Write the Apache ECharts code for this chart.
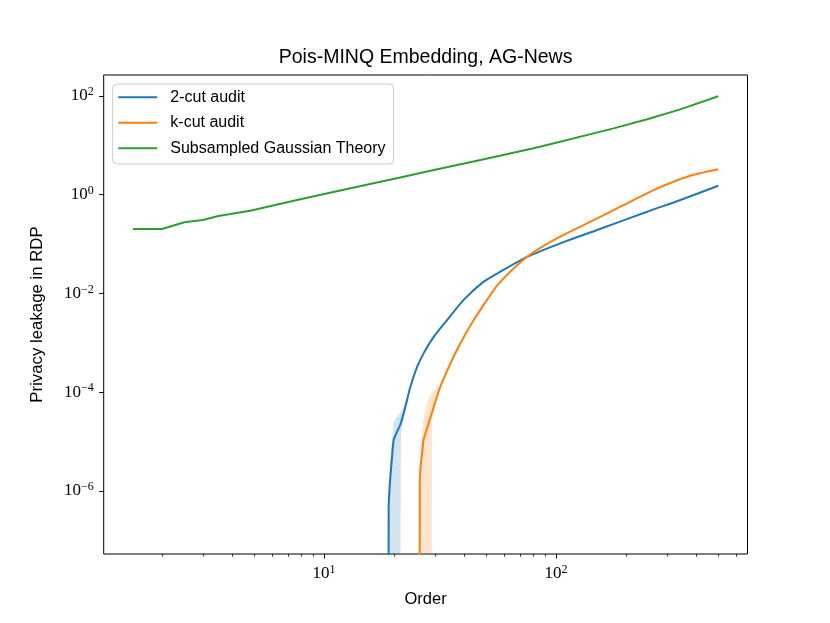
<!DOCTYPE html>
<html><head><meta charset="utf-8">
<script src="https://cdn.jsdelivr.net/npm/echarts@6/dist/echarts.min.js"></script>
<style>html,body{margin:0;padding:0;background:#fff}#c{width:830px;height:623px}</style>
</head><body><div id="c"></div>
<script>
// x = RDP order; y = log10(privacy leakage); null = zero leakage (falls below the axis, like matplotlib's clipping)
const greenOrders = [1.5, 2, 2.5, 3, 3.5, 4.8, 7.9, 13, 17.5, 21.3, 28.7, 47.2, 78.2, 91.4, 177, 247, 343, 500];
const greenLog10 = [-0.695, -0.695, -0.559, -0.513, -0.432, -0.324, -0.093, 0.130, 0.263, 0.351, 0.484, 0.703, 0.932, 1.007, 1.345, 1.528, 1.730, 1.995];

const blueOrders = [18.95, 18.98, 19.31, 19.64, 19.95, 20.64, 21.33, 22.4, 23.55, 25.17, 26.88, 29.68, 33.9, 39.96, 48.75, 57.5, 75.0, 104.3, 150.2, 246.7, 343.4, 500];
const blueLog10 = [null, -6.32, -5.71, -5.31, -4.97, -4.80, -4.65, -4.30, -3.89, -3.49, -3.21, -2.88, -2.54, -2.13, -1.76, -1.56, -1.26, -0.985, -0.715, -0.344, -0.107, 0.182];

const orangeOrders = [25.8, 25.83, 26.1, 26.45, 26.88, 27.8, 29.68, 31.72, 35.03, 38.68, 44.14, 50.42, 56.56, 75.0, 97.7, 136, 189.3, 263.5, 367, 500];
const orangeLog10 = [null, -5.82, -5.48, -5.24, -4.95, -4.73, -4.30, -3.89, -3.42, -3.01, -2.54, -2.13, -1.80, -1.256, -0.918, -0.58, -0.243, 0.095, 0.365, 0.515];

const blueBandOrders = [18.95, 18.98, 19.31, 19.64, 19.95, 20.64, 21.33, 21.45, 22.4, 23.55];
const blueBandUpper = [null, -6.0, -5.3, -4.95, -4.6, -4.5, -4.42, -4.40, -4.2, -3.86];
const blueBandLower = [null, null, null, null, null, null, null, -4.85, -4.38, -3.92];

const orangeBandOrders = [25.8, 25.83, 26.1, 26.45, 26.88, 27.8, 29.1, 29.2, 29.68, 31.72];
const orangeBandUpper = [null, -5.5, -5.1, -4.77, -4.5, -4.2, -4.0, -3.99, -3.97, -3.85];
const orangeBandLower = [null, null, null, null, null, null, null, -4.6, -4.4, -3.93];

const yTickExps = [-6, -4, -2, 0, 2];
const xTickExps = [1, 2];
const xMinorTickOrders = [2, 3, 4, 5, 6, 7, 8, 9, 20, 30, 40, 50, 60, 70, 80, 90, 200, 300, 400, 500, 600];
const seriesNames = ['2-cut audit', 'k-cut audit', 'Subsampled Gaussian Theory'];

const xExtentLog = [0.05, 2.825];
const yExtentLog = [-7.28, 2.426];
const FLOOR = -12;

const L = Math.log10;
const val = v => (v == null ? FLOOR : v);
const pts = (xs, ys) => xs.map((x, i) => [L(x), val(ys[i])]);

const SANS = 'Liberation Sans';
const SERIF = 'Liberation Serif';
const expFmt = v => {
  const e = Math.round(v);
  return '{b|10}{s|' + (e < 0 ? '\u2212' + Math.abs(e) : e) + '}';
};
const rich = {
  b: { fontFamily: SERIF, fontSize: 17, lineHeight: 20, color: '#000' },
  s: { fontFamily: SERIF, fontSize: 12, lineHeight: 12, verticalAlign: 'top', color: '#000' }
};

const C = { blue: '#1f77b4', orange: '#ff7f0e', green: '#2ca02c' };

// Filled confidence band drawn as one polygon, positioned through the axes (api.coord)
function bandSeries(xs, up, lo, fill) {
  const rows = xs.map((x, i) => [L(x), val(lo[i]), val(up[i])]);
  return {
    type: 'custom', data: rows, encode: { x: 0, y: [1, 2] }, silent: true, z: 1, animation: false,
    renderItem: (params, api) => {
      if (params.dataIndex !== 0) return null;
      const cs = params.coordSys;
      const clampY = p => [p[0], Math.max(cs.y, Math.min(cs.y + cs.height, p[1]))];
      const top = rows.map(r => clampY(api.coord([r[0], r[2]])));
      const bot = rows.map(r => clampY(api.coord([r[0], r[1]]))).reverse();
      return { type: 'polygon', shape: { points: top.concat(bot), smooth: 0 }, style: { fill: fill, stroke: null } };
    }
  };
}

const chart = echarts.init(document.getElementById('c'), null, { renderer: 'canvas' });
chart.setOption({
  animation: false,
  backgroundColor: '#fff',
  title: {
    text: 'Pois-MINQ Embedding, AG-News', left: 425.6, textAlign: 'center', top: 48, padding: 0,
    textStyle: { fontFamily: SANS, fontSize: 19.5, fontWeight: 'normal', color: '#000' }
  },
  legend: {
    data: seriesNames, orient: 'vertical', left: 112.7, top: 84,
    padding: [3.3, 8, 5.7, 5.6], itemGap: 5.5, itemWidth: 39, itemHeight: 2, icon: 'rect',
    backgroundColor: 'rgba(255,255,255,0.8)', borderColor: '#cccccc', borderWidth: 1, borderRadius: 4,
    selectedMode: false,
    textStyle: { fontFamily: SANS, fontSize: 16, lineHeight: 20, color: '#000', padding: [0, 0, 0, 8] }
  },
  grid: { left: 103.7, right: 82.5, top: 75, bottom: 69, show: true, borderColor: '#000', borderWidth: 1, backgroundColor: 'transparent' },
  xAxis: [
    {
      type: 'value', min: xExtentLog[0], max: xExtentLog[1], position: 'bottom',
      name: 'Order', nameLocation: 'middle', nameGap: 37,
      nameTextStyle: { fontFamily: SANS, fontSize: 16.5, color: '#000' },
      axisLine: { show: false, onZero: false },
      axisTick: { show: true, customValues: xTickExps, length: 4.5, lineStyle: { color: '#000', width: 1 } },
      axisLabel: { show: true, customValues: xTickExps, formatter: expFmt, rich: rich, margin: 10 },
      splitLine: { show: false }
    },
    {
      type: 'value', min: xExtentLog[0], max: xExtentLog[1], position: 'bottom',
      axisLine: { show: false, onZero: false },
      axisTick: { show: true, customValues: xMinorTickOrders.map(L), length: 2.6, lineStyle: { color: '#000', width: 0.8 } },
      axisLabel: { show: false },
      splitLine: { show: false }
    }
  ],
  yAxis: {
    type: 'value', min: yExtentLog[0], max: yExtentLog[1],
    name: 'Privacy leakage in RDP', nameLocation: 'middle', nameGap: 58,
    nameTextStyle: { fontFamily: SANS, fontSize: 16.8, color: '#000' },
    axisLine: { show: false, onZero: false },
    axisTick: { show: true, customValues: yTickExps, length: 4.5, lineStyle: { color: '#000', width: 1 } },
    axisLabel: { show: true, customValues: yTickExps, formatter: expFmt, rich: rich, margin: 10 },
    splitLine: { show: false }
  },
  series: [
    bandSeries(blueBandOrders, blueBandUpper, blueBandLower, 'rgba(31,119,180,0.2)'),
    bandSeries(orangeBandOrders, orangeBandUpper, orangeBandLower, 'rgba(255,127,14,0.2)'),
    { name: seriesNames[0], type: 'line', data: pts(blueOrders, blueLog10), showSymbol: false, color: C.blue,
      smooth: 0.25, lineStyle: { color: C.blue, width: 2 }, z: 3 },
    { name: seriesNames[1], type: 'line', data: pts(orangeOrders, orangeLog10), showSymbol: false, color: C.orange,
      smooth: 0.25, lineStyle: { color: C.orange, width: 2 }, z: 3 },
    { name: seriesNames[2], type: 'line', data: pts(greenOrders, greenLog10), showSymbol: false, color: C.green,
      lineStyle: { color: C.green, width: 2 }, z: 3 }
  ]
});
</script></body></html>
